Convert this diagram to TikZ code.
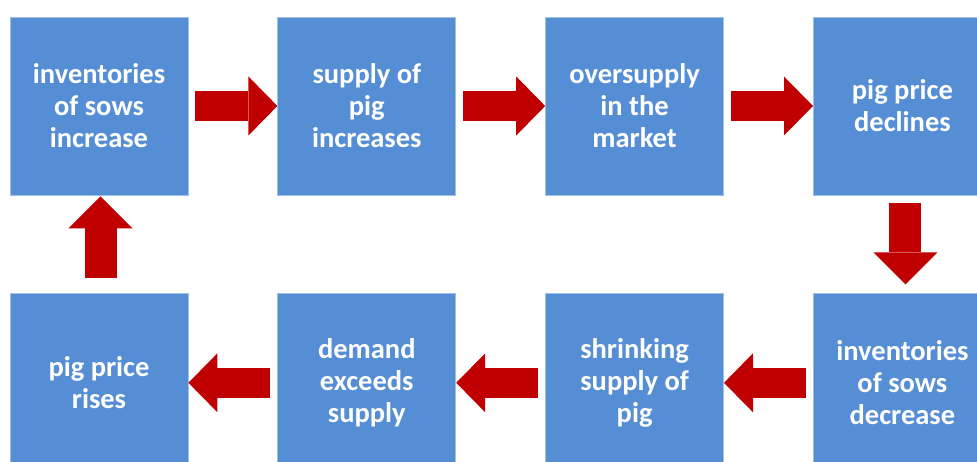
\documentclass[tikz,border=0pt]{standalone}
\usepackage{fontspec}
\setmainfont{Carlito}
\usetikzlibrary{positioning,arrows.meta}
\definecolor{boxblue}{RGB}{85,142,213}
\definecolor{arrowred}{RGB}{192,0,0}

\begin{document}
\begin{tikzpicture}[x=1pt, y=1pt,
box/.style={rectangle, fill=boxblue, draw=boxblue!55!white, line width=0.8pt, minimum size=178pt, inner sep=0pt, text=white, align=center, font=\bfseries\fontsize{28.5}{32}\selectfont},
fat_arrow/.style={draw=arrowred, line width=30pt, shorten <=7pt, -{Triangle[width=59pt, length=29pt, line width=0pt]}},
fat_arrow_v/.style={draw=arrowred, line width=32pt, -{Triangle[width=64pt, length=32pt, line width=0pt]}},
node distance=89pt,
]

\clip (0,0) rectangle (977,-462);

% top row, left to right
\node[box](sows_up) at (99,-106){inventories\\of sows\\increase};
\node[box](supply_up)[right=of sows_up]{supply of\\pig\\increases};
\node[box](oversupply)[right=of supply_up]{oversupply\\in the\\market};
\node[box](price_down)[right=of oversupply]{pig price\\declines};

% bottom row, right to left
\node[box](sows_down)[below=98pt of price_down]{inventories\\of sows\\decrease};
\node[box](supply_shrink)[left=of sows_down]{shrinking\\supply of\\pig};
\node[box](demand_exceeds)[left=of supply_shrink]{demand\\exceeds\\supply};
\node[box](price_up)[left=of demand_exceeds]{pig price\\rises};

% the cycle
\draw[fat_arrow] (sows_up) -- (supply_up);
\draw[fat_arrow] (supply_up) -- (oversupply);
\draw[fat_arrow] (oversupply) -- (price_down);
\draw[fat_arrow_v, shorten <=8pt, shorten >=9pt] ([xshift=3pt]price_down.south) -- ([xshift=3pt]sows_down.north);
\draw[fat_arrow] (sows_down) -- (supply_shrink);
\draw[fat_arrow] (supply_shrink) -- (demand_exceeds);
\draw[fat_arrow] (demand_exceeds) -- (price_up);
\draw[fat_arrow_v, shorten <=15pt, shorten >=1pt] ([xshift=1.5pt]price_up.north) -- ([xshift=1.5pt]sows_up.south);

\end{tikzpicture}
\end{document}
